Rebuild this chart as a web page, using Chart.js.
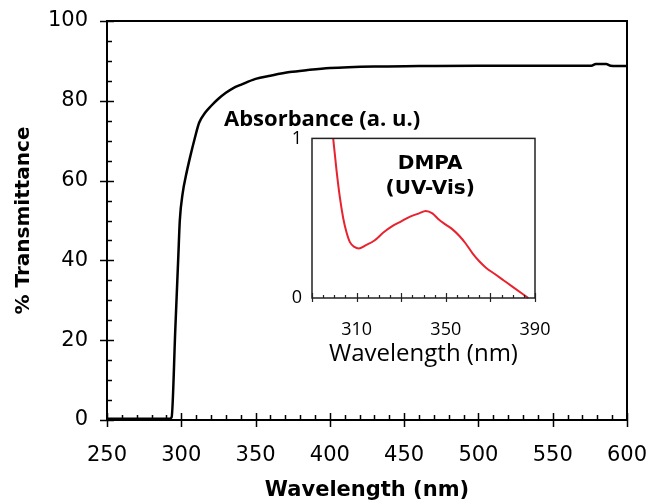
<!DOCTYPE html>
<html>
<head>
<meta charset="utf-8">
<script src="https://cdn.jsdelivr.net/npm/chart.js@4.4.1/dist/chart.umd.min.js"></script>
<style>
  html, body { margin: 0; padding: 0; background: #fff; }
  #wrap { position: relative; width: 648px; height: 503px; }
  #main { position: absolute; left: 0; top: 0; }
  #inset { position: absolute; left: 224px; top: 105px; }
</style>
</head>
<body>
<div id="wrap">
  <canvas id="main" width="648" height="503"></canvas>
  <canvas id="inset" width="330" height="268"></canvas>
</div>
<script>
// Transmittance curve (main plot)
const transWavelength = [250, 292, 293.5, 296, 298, 299, 301, 303, 306, 309, 312, 316, 320, 325, 330, 335, 340, 350, 360, 373, 385, 400, 430, 460, 500, 550, 576, 579, 586, 589, 600];
const transValues = [0.3, 0.3, 0.7, 23, 41, 50, 57, 61, 66, 70.5, 74.5, 77, 78.7, 80.5, 82, 83.2, 84, 85.5, 86.3, 87.2, 87.7, 88.2, 88.6, 88.7, 88.8, 88.8, 88.8, 89.2, 89.2, 88.8, 88.7];

// DMPA absorbance (inset)
const insetWavelength = [299.5, 301, 302.5, 304, 305.5, 307, 309, 311, 314, 318, 322, 326, 330, 334, 338, 341, 344, 347, 350, 353, 356, 359, 362, 365, 368, 372, 376, 380, 384, 387];
const insetAbsorb = [1.0, 0.8, 0.63, 0.5, 0.41, 0.35, 0.32, 0.31, 0.33, 0.36, 0.41, 0.45, 0.48, 0.51, 0.53, 0.545, 0.53, 0.49, 0.46, 0.43, 0.39, 0.34, 0.28, 0.23, 0.19, 0.15, 0.11, 0.07, 0.03, 0.0];

// tick labels
const mainXTicks = [250, 300, 350, 400, 450, 500, 550, 600];
const mainYTicks = [0, 20, 40, 60, 80, 100];
const insetXTicks = [310, 350, 390];
const insetYTicks = [0, 1];

function toPoints(xs, ys) {
  return xs.map((x, i) => ({ x: x, y: ys[i] }));
}

// fixed axis box sizes, no extra room for overhanging labels
function fixBox(size) {
  return s => {
    if (s.isHorizontal()) s.height = size; else s.width = size;
    s.paddingLeft = 0; s.paddingRight = 0; s.paddingTop = 0; s.paddingBottom = 0;
  };
}

// box frame + major/minor tick marks drawn off the chart's own scales
const frameTicks = {
  id: 'frameTicks',
  afterDraw(chart, args, o) {
    const { ctx, chartArea: a, scales: { x, y } } = chart;
    const isMajor = (v, base, step) => Math.abs(((v - base) / step) - Math.round((v - base) / step)) < 1e-6;
    ctx.save();
    ctx.strokeStyle = o.color;
    ctx.lineWidth = o.tickWidth;
    ctx.beginPath();
    if (o.xMinor) {
      for (let v = x.min; v <= x.max + 1e-6; v += o.xMinor) {
        const px = Math.round(x.getPixelForValue(v)) + 0.5;
        if (isMajor(v, o.xBase, o.xMajor)) {
          ctx.moveTo(px, a.bottom + o.majorOut);
          ctx.lineTo(px, a.bottom - o.majorIn);
        } else {
          ctx.moveTo(px, a.bottom);
          ctx.lineTo(px, a.bottom - o.minorIn);
        }
      }
    }
    if (o.yMinor) {
      for (let v = y.min; v <= y.max + 1e-6; v += o.yMinor) {
        const py = Math.round(y.getPixelForValue(v)) + 0.5;
        if (isMajor(v, y.min, o.yMajor)) {
          ctx.moveTo(a.left - o.majorOut, py);
          ctx.lineTo(a.left + o.majorIn, py);
        } else {
          ctx.moveTo(a.left, py);
          ctx.lineTo(a.left + o.minorIn, py);
        }
      }
    }
    ctx.stroke();
    ctx.lineWidth = o.frameWidth;
    ctx.strokeRect(a.left, a.top, a.right - a.left, a.bottom - a.top);
    ctx.restore();
  }
};

const tickFont = { family: 'DejaVu Sans', size: 21 };

new Chart(document.getElementById('main').getContext('2d'), {
  type: 'line',
  data: {
    datasets: [{
      data: toPoints(transWavelength, transValues),
      borderColor: '#000',
      borderWidth: 2.5,
      pointRadius: 0,
      cubicInterpolationMode: 'monotone',
      clip: false
    }]
  },
  options: {
    responsive: false,
    animation: false,
    layout: { padding: { top: 21, right: 21, left: 0, bottom: 0 } },
    plugins: {
      legend: { display: false },
      tooltip: { enabled: false },
      frameTicks: { color: '#000', tickWidth: 1.5, frameWidth: 2, xBase: 250, xMinor: 10, xMajor: 50, yMinor: 5, yMajor: 20, majorOut: 7, majorIn: 7, minorIn: 5 }
    },
    scales: {
      x: {
        type: 'linear', min: 250, max: 600,
        afterBuildTicks: s => { s.ticks = mainXTicks.map(v => ({ value: v })); },
        afterFit: fixBox(83),
        grid: { display: false }, border: { display: false },
        ticks: { font: tickFont, color: '#000', padding: 15, maxRotation: 0 },
        title: { display: true, text: 'Wavelength (nm)', font: { family: 'DejaVu Sans', size: 21, weight: 'bold' }, color: '#000', padding: { top: 0, bottom: 0 } }
      },
      y: {
        min: 0, max: 100,
        afterBuildTicks: s => { s.ticks = mainYTicks.map(v => ({ value: v })); },
        afterFit: fixBox(107),
        grid: { display: false }, border: { display: false },
        ticks: { font: tickFont, color: '#000', padding: 11 },
        title: { display: true, text: '% Transmittance', font: { family: 'DejaVu Sans', size: 20, weight: 'bold' }, color: '#000', padding: { top: 12, bottom: 0 } }
      }
    }
  },
  plugins: [frameTicks]
});

// DMPA (UV-Vis) label inside the inset
const insetLabel = {
  id: 'insetLabel',
  afterDraw(chart) {
    const { ctx, chartArea: a } = chart;
    ctx.save();
    ctx.fillStyle = '#000';
    ctx.font = 'bold 20px "DejaVu Sans"';
    ctx.textAlign = 'center';
    ctx.textBaseline = 'middle';
    const cx = a.left + 0.53 * (a.right - a.left);
    ctx.fillText('DMPA', cx, a.top + 25);
    ctx.fillText('(UV-Vis)', cx, a.top + 50);
    ctx.restore();
  }
};

new Chart(document.getElementById('inset').getContext('2d'), {
  type: 'line',
  data: {
    datasets: [{
      data: toPoints(insetWavelength, insetAbsorb),
      borderColor: '#e8222e',
      borderWidth: 2,
      pointRadius: 0,
      cubicInterpolationMode: 'monotone',
      clip: false
    }]
  },
  options: {
    responsive: false,
    animation: false,
    layout: { padding: { top: 0, right: 19, left: 0, bottom: 0 } },
    plugins: {
      legend: { display: false },
      tooltip: { enabled: false },
      title: {
        display: true, text: 'Absorbance (a. u.)', align: 'start', color: '#000',
        font: { family: 'Open Sans', size: 22, weight: 'bold' },
        padding: { top: 2, bottom: 5 }
      },
      frameTicks: { color: '#222', tickWidth: 1.2, frameWidth: 1.5, xBase: 290, xMinor: 5, xMajor: 20, yMinor: 0, yMajor: 1, majorOut: 4, majorIn: 5, minorIn: 3 }
    },
    scales: {
      x: {
        type: 'linear', min: 290, max: 390,
        afterBuildTicks: s => { s.ticks = insetXTicks.map(v => ({ value: v })); },
        afterFit: fixBox(75),
        grid: { display: false }, border: { display: false },
        ticks: { font: { family: 'Open Sans', size: 18 }, color: '#000', padding: 13, maxRotation: 0 },
        title: { display: true, text: 'Wavelength (nm)', font: { family: 'Open Sans', size: 24 }, color: '#000', padding: { top: 0, bottom: 4 } }
      },
      y: {
        min: 0, max: 1,
        afterBuildTicks: s => { s.ticks = insetYTicks.map(v => ({ value: v })); },
        afterFit: fixBox(88),
        grid: { display: false }, border: { display: false },
        ticks: { font: { family: 'Open Sans', size: 18 }, color: '#000', padding: 2 }
      }
    }
  },
  plugins: [frameTicks, insetLabel]
});
</script>
</body>
</html>
